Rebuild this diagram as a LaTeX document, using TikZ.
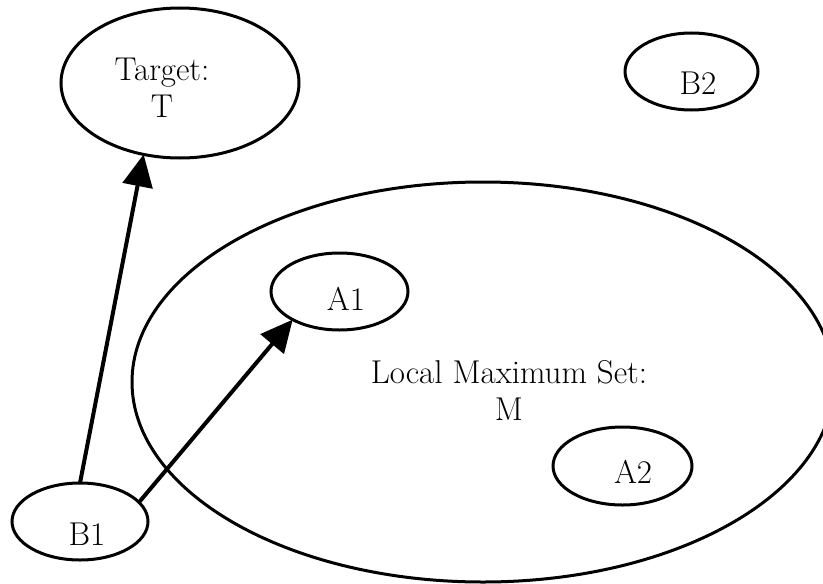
\documentclass[tikz,border=0pt]{standalone}
\usetikzlibrary{arrows.meta,shapes.geometric}
\begin{document}
\begin{tikzpicture}[x=0.5pt,y=-0.5pt,
  oval/.style={draw,ellipse,line width=1.5pt,inner sep=0pt,outer sep=0pt},
  lbl/.style={font=\fontsize{16.5}{18.5}\selectfont,align=center,inner sep=0pt,anchor=base},
  arr/.style={-{Triangle[length=16pt,width=15pt]},line width=2pt},
]
\useasboundingbox (0,0) rectangle (823,583);
\node[oval,minimum width=351pt,minimum height=200pt] (max) at (483,382) {};
\node[oval,minimum width=119pt,minimum height=75pt] (target) at (180,83) {};
\node[oval,minimum width=66.5pt,minimum height=38.5pt] (b2) at (691.5,71.5) {};
\node[oval,minimum width=68.5pt,minimum height=38.5pt] (a1) at (339.5,291.5) {};
\node[oval,minimum width=69.5pt,minimum height=39pt] (a2) at (622.5,466) {};
\node[oval,minimum width=68pt,minimum height=38.5pt] (b1) at (80,521.5) {};

\node[lbl] (targettxt) at (162,118) {Target:\\T};
\node[lbl] (b2txt) at (698,95) {B2};
\node[lbl] (a1txt) at (346,310) {A1};
\node[lbl] (a2txt) at (633,483) {A2};
\node[lbl] (b1txt) at (87,545) {B1};
\node[lbl] (maxtxt) at (509,420) {Local Maximum Set:\\M};

\draw[arr] (b1.north) -- (target.243);
\draw[arr] (b1.18) -- (a1.211);
\end{tikzpicture}
\end{document}
